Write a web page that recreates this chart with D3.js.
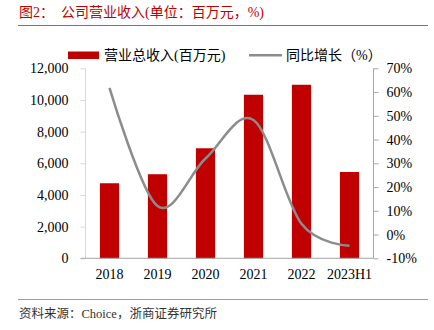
<!DOCTYPE html>
<html><head><meta charset="utf-8">
<script src="https://cdn.jsdelivr.net/npm/d3@7"></script>
<style>
html,body{margin:0;padding:0;background:#fff;}
svg{display:block;}
</style></head>
<body>
<script>
const categories = ["2018","2019","2020","2021","2022","2023H1"];
const revenue = [4740, 5310, 6950, 10330, 10960, 5450];
const growth = [61.8, 12.0, 32.0, 48.2, 4.5, -4.7];
const leftTicks = [0,2000,4000,6000,8000,10000,12000];
const rightTicks = [-10,0,10,20,30,40,50,60,70];
const seriesNames = ["营业总收入(百万元)", "同比增长（%）"];
const titleText = "图2：  公司营业收入(单位：百万元，%)";
const sourceText = "资料来源：Choice，浙商证券研究所";

(function(){
const W = 434, H = 330;
const FONT = "'Liberation Serif','Times New Roman','Noto Sans CJK SC',serif";
const RED = "#c00000";
const svg = d3.select("body").append("svg").attr("width", W).attr("height", H);

// title
svg.append("text").attr("x", 19).attr("y", 17).attr("fill", RED)
  .style("white-space", "pre")
  .style("font-family", FONT).style("font-size", "14px").text(titleText);
svg.append("line").attr("x1", 18).attr("x2", 428).attr("y1", 25.5).attr("y2", 25.5)
  .attr("stroke", "#d05050").attr("stroke-width", 1);

const pLeft = 85.5, pRight = 373.5, pTop = 68.3, pBottom = 258.3;
const x = d3.scaleBand().domain(categories).range([pLeft, pRight]).paddingInner(0.6).paddingOuter(0.3);
const yL = d3.scaleLinear().domain([0, 12000]).range([pBottom, pTop]);
const yR = d3.scaleLinear().domain([-10, 70]).range([pBottom, pTop]);

// bars
svg.append("g").selectAll("rect").data(revenue).join("rect")
  .attr("x", (d,i) => x(categories[i]))
  .attr("y", d => yL(d))
  .attr("width", x.bandwidth())
  .attr("height", d => yL(0) - yL(d))
  .attr("fill", RED);

// left axis
const gL = svg.append("g").attr("transform", `translate(${pLeft},0)`)
  .call(d3.axisLeft(yL).tickValues(leftTicks).tickSize(5).tickPadding(12).tickFormat(d3.format(",")));
gL.select(".domain").attr("stroke", "#d9d9d9").attr("d", `M0,${pTop}V${pBottom}`);
gL.selectAll(".tick line").attr("stroke", "#d9d9d9");
gL.selectAll("text").style("font-family", FONT).style("font-size", "14px").attr("fill", "#000");

// right axis
const gR = svg.append("g").attr("transform", `translate(${pRight},0)`)
  .call(d3.axisRight(yR).tickValues(rightTicks).tickSize(5).tickPadding(8).tickFormat(d => d + "%"));
gR.select(".domain").attr("stroke", "#a6a6a6").attr("d", `M0,${pTop}V${pBottom}`);
gR.selectAll(".tick line").attr("stroke", "#a6a6a6");
gR.selectAll("text").style("font-family", FONT).style("font-size", "14px").attr("fill", "#000");

// bottom axis
const gB = svg.append("g").attr("transform", `translate(0,${pBottom})`)
  .call(d3.axisBottom(x).tickSize(0).tickPadding(11));
gB.select(".domain").attr("stroke", "#a6a6a6").attr("d", `M${pLeft-5},0H${pRight}`);
gB.selectAll("text").style("font-family", FONT).style("font-size", "14px").attr("fill", "#000");

// line
const line = d3.line()
  .x((d,i) => x(categories[i]) + x.bandwidth()/2)
  .y(d => yR(d))
  .curve(d3.curveCardinal.tension(0));
svg.append("path").datum(growth).attr("d", line)
  .attr("fill", "none").attr("stroke", "#8c8c8c").attr("stroke-width", 2.5);

// legend
svg.append("rect").attr("x", 68).attr("y", 51.5).attr("width", 31).attr("height", 7.5).attr("fill", RED);
svg.append("text").attr("x", 104).attr("y", 60).style("font-family", FONT).style("font-size", "14px")
  .attr("fill", "#000").text(seriesNames[0]);
svg.append("line").attr("x1", 249).attr("x2", 282).attr("y1", 55.3).attr("y2", 55.3)
  .attr("stroke", "#8c8c8c").attr("stroke-width", 2.5);
svg.append("text").attr("x", 286).attr("y", 60).style("font-family", FONT).style("font-size", "14px")
  .attr("fill", "#000").text(seriesNames[1]);

// footer
svg.append("line").attr("x1", 18).attr("x2", 428).attr("y1", 299.5).attr("y2", 299.5)
  .attr("stroke", "#e08080").attr("stroke-width", 1);
svg.append("text").attr("x", 19).attr("y", 318).attr("fill", "#333")
  .style("font-family", FONT).style("font-size", "12.5px").text(sourceText);
})();
</script>
</body></html>
